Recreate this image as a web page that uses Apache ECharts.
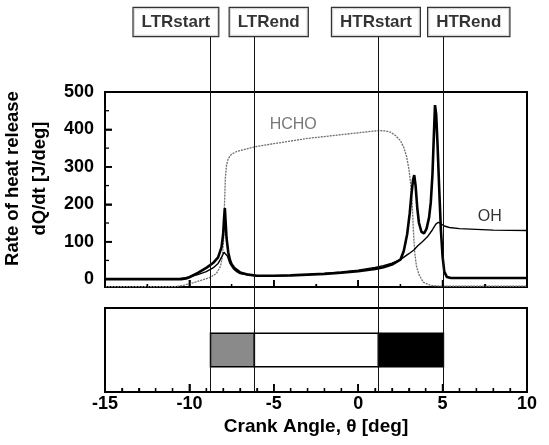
<!DOCTYPE html>
<html>
<head>
<meta charset="utf-8">
<script src="https://cdn.jsdelivr.net/npm/echarts@6/dist/echarts.min.js"></script>
<style>
    html, body {margin: 0; background: #fff;}
    #container {width: 549px; height: 445px;}
</style>
</head>
<body>
<div id="container"></div>
<script>
// heat release rate dQ/dt (thick black)
var rateTheta = [-15, -10.5, -10.2, -10.0, -9.5, -9.0, -8.6, -8.3, -8.1, -8.0, -7.95, -7.9, -7.85, -7.8, -7.7, -7.6, -7.5, -7.3, -7.0, -6.5,
    -6.0, -5.0, -4.0, -3.0, -2.0, -1.0, 0.0, 1.0, 1.5, 2.0, 2.5, 2.7, 2.9, 3.05, 3.15, 3.25, 3.32, 3.4, 3.5, 3.6,
    3.75, 3.9, 4.05, 4.2, 4.3, 4.4, 4.48, 4.55, 4.62, 4.7, 4.8, 4.9, 5.0, 5.1, 5.25, 5.5, 10];
var rate = [0, 0, 2, 5, 17, 30, 43, 58, 85, 120, 160, 190, 150, 110, 72, 52, 40, 28, 18, 12,
    9, 9, 10, 12, 14, 17, 21, 27, 32, 39, 52, 75, 120, 175, 225, 265, 278, 250, 190, 150,
    126, 122, 135, 165, 205, 280, 380, 465, 440, 360, 240, 130, 60, 20, 6, 3, 3];

// OH (thin black)
var ohTheta = [-15, -10.8, -10.3, -10.0, -9.5, -9.0, -8.6, -8.3, -8.1, -7.95, -7.85, -7.75, -7.6, -7.4, -7.2, -7.0, -6.5, -6.0, -5.0, -4.0,
    -3.0, -2.0, -1.0, 0.0, 1.0, 1.5, 2.0, 2.5, 3.0, 3.3, 3.5, 3.8, 4.1, 4.4, 4.6, 4.75, 4.9, 5.1, 5.4, 6.0, 7.0, 8.0, 10];
var oh = [0, 0, 3, 6, 12, 20, 30, 42, 58, 72, 75, 62, 42, 28, 20, 15, 11, 9, 9, 10,
    12, 15, 19, 24, 31, 36, 43, 52, 68, 78, 88, 100, 113, 132, 147, 152, 148, 142, 138, 135, 133, 131, 130];

// HCHO (gray)
var hchoTheta = [-15, -10.8, -10.3, -9.8, -9.3, -8.8, -8.4, -8.15, -8.05, -7.98, -7.92, -7.87, -7.8, -7.7, -7.5, -7.2, -6.6, -6.2, -5, -4,
    -3, -2, -1, 0, 0.8, 1.2, 1.6, 1.9, 2.2, 2.5, 2.7, 2.87, 3.0, 3.1, 3.2, 3.27, 3.35, 3.45, 3.6, 3.85, 4.3, 5, 10];
var hcho = [-20, -20, -16, -10, -3, 4, 15, 35, 60, 100, 200, 270, 305, 322, 334, 341, 348, 353, 362, 369,
    376, 381, 386, 391, 395, 397, 396, 393, 384, 370, 352, 327, 295, 258, 200, 130, 70, 35, 12, -8, -17, -19, -19];

// LTR / HTR markers
var phaseNames = ['LTRstart', 'LTRend', 'HTRstart', 'HTRend'];
var phaseTheta = [-8.75, -6.15, 1.2, 5.05];
var phaseBoxTheta = [-10.8, -5.3, 1.05, 6.55];   // where the label boxes sit

// ticks
var xTickMajor = [-15, -10, -5, 0, 5, 10];
var xTickHalf = [-12.5, -7.5, -2.5, 2.5, 7.5];
var xTickUnit = [-14, -13, -12, -11, -9, -8, -7, -6, -4, -3, -2, -1, 1, 2, 3, 4, 6, 7, 8, 9];
var yMajor = [0, 100, 200, 300, 400, 500];
var yMinor = [50, 150, 250, 350, 450];

// curve labels
var curveNames = ['HCHO', 'OH'];
var curveLabelAt = [[-3.85, 412], [7.8, 167]];

var font = 'Liberation Sans, Arial, sans-serif';
var Y_MIN = -21;

function pairs(xs, ys) {
    var out = [];
    for (var i = 0; i < xs.length; i++) {
        out.push([xs[i], ys[i]]);
    }
    return out;
}

//inward tick marks, placed through the axis scales
function tickSeries(xIdx, yIdx, values, horizontal, base, len) {
    var pts = values.map(function (v) { return horizontal ? [v, base] : [base, v]; });
    return {
        type: 'custom', xAxisIndex: xIdx, yAxisIndex: yIdx, silent: true, z: 10, clip: false,
        encode: {x: 0, y: 1},
        data: pts,
        renderItem: function (params, api) {
            var p = api.coord([api.value(0), api.value(1)]);
            var q = horizontal ? [p[0], p[1] - len] : [p[0] + len, p[1]];
            return {
                type: 'line',
                shape: {x1: p[0], y1: p[1], x2: q[0], y2: q[1]},
                style: {stroke: '#000', lineWidth: len > 5 ? 1.6 : 1.3, fill: null}
            };
        }
    };
}

var dom = document.getElementById('container');
var myChart = echarts.init(dom);

function frameLine() {
    return {show: true, onZero: false, lineStyle: {color: '#000', width: 2}};
}
function gridBox(top, height, show) {
    return {
        left: 105, right: 22, top: top, height: height, show: show,
        borderColor: '#000', borderWidth: 2, backgroundColor: 'transparent',
        containLabel: false, outerBoundsMode: 'none'
    };
}

var option = {
    animation: false,
    grid: [gridBox(92, 195, true), gridBox(308, 84, true), gridBox(37, 355, false), gridBox(7, 30, false)],
    xAxis: [
        {
            gridIndex: 0, type: 'value', min: -15, max: 10, interval: 5,
            axisLine: frameLine(),
            axisLabel: {show: false},
            axisTick: {show: true, inside: true, length: 7, lineStyle: {color: '#000', width: 1.6}},
            minorTick: {show: true, splitNumber: 2, length: 3, lineStyle: {color: '#000', width: 1.3}},
            splitLine: {show: false},
            minorSplitLine: {show: false}
        },
        {
            gridIndex: 1, type: 'value', min: -15, max: 10, interval: 5,
            axisLine: frameLine(),
            axisLabel: {show: true, color: '#000', fontSize: 18, fontWeight: 'bold', margin: 3, fontFamily: font},
            axisTick: {show: true, inside: true, length: 8, lineStyle: {color: '#000', width: 1.6}},
            minorTick: {show: true, splitNumber: 5, length: 4, lineStyle: {color: '#000', width: 1.3}},
            splitLine: {show: false},
            minorSplitLine: {show: false},
            name: 'Crank Angle, θ [deg]',
            nameLocation: 'middle',
            nameGap: 25,
            nameTextStyle: {color: '#000', fontSize: 19, fontWeight: 'bold', fontFamily: font}
        },
        {gridIndex: 2, type: 'value', min: -15, max: 10, show: false},
        {gridIndex: 3, type: 'value', min: -15, max: 10, show: false}
    ],
    yAxis: [
        {
            gridIndex: 0, type: 'value', min: Y_MIN, max: 500,
            axisLine: frameLine(),
            axisLabel: {show: true, customValues: yMajor, color: '#000', fontSize: 18, fontWeight: 'bold', margin: 11, fontFamily: font},
            axisTick: {show: true, customValues: yMajor, inside: true, length: 7, lineStyle: {color: '#000', width: 1.6}},
            splitLine: {show: false},
            name: 'Rate of heat release\ndQ/dt [J/deg]',
            nameLocation: 'middle',
            nameRotate: 90,
            nameGap: 42,
            nameTextStyle: {color: '#000', fontSize: 18.5, fontWeight: 'bold', lineHeight: 27, padding: [0, 0, 0, 22], fontFamily: font}
        },
        {gridIndex: 1, type: 'value', min: 0, max: 1, show: false},
        {gridIndex: 2, type: 'value', min: 0, max: 1, show: false},
        {gridIndex: 3, type: 'value', min: 0, max: 1, show: false}
    ],
    series: [
        //vertical LTR/HTR lines
        {
            type: 'line', xAxisIndex: 2, yAxisIndex: 2,
            data: [[-15, 0]], symbol: 'none', lineStyle: {opacity: 0},
            markLine: {
                silent: true, symbol: ['none', 'none'],
                label: {show: false},
                lineStyle: {color: '#111', width: 1, type: 'solid'},
                data: phaseTheta.map(function (v) { return {xAxis: v}; })
            }
        },
        //label boxes
        {
            type: 'scatter', xAxisIndex: 3, yAxisIndex: 3, symbolSize: 0,
            data: phaseBoxTheta.map(function (v, i) { return {value: [v, 0.5], name: phaseNames[i]}; }),
            label: {
                show: true, position: 'inside', formatter: '{b}',
                color: '#000', fontSize: 17, fontWeight: 'bold', fontFamily: font, lineHeight: 18,
                backgroundColor: '#fff', borderColor: '#000', borderWidth: 1.2, padding: [5, 8]
            }
        },
        {
            name: 'HCHO', type: 'line', xAxisIndex: 0, yAxisIndex: 0,
            data: pairs(hchoTheta, hcho), symbol: 'none',
            lineStyle: {color: '#6e6e6e', width: 1.3, type: [2, 1]}
        },
        {
            name: 'OH', type: 'line', xAxisIndex: 0, yAxisIndex: 0,
            data: pairs(ohTheta, oh), symbol: 'none',
            lineStyle: {color: '#000', width: 1.4}
        },
        {
            name: 'dQ/dt', type: 'line', xAxisIndex: 0, yAxisIndex: 0,
            data: pairs(rateTheta, rate), symbol: 'none',
            lineStyle: {color: '#000', width: 2.6}
        },
        //curve names
        {
            type: 'scatter', xAxisIndex: 0, yAxisIndex: 0, symbolSize: 0,
            data: curveLabelAt.map(function (p, i) {
                return {value: p, name: curveNames[i], label: {color: i === 0 ? '#555' : '#000'}};
            }),
            label: {show: true, position: 'inside', formatter: '{b}', fontSize: 16, fontFamily: font}
        },
        //LTR / HTR phase boxes in the lower panel
        {
            type: 'custom', xAxisIndex: 1, yAxisIndex: 1,
            data: [0, 1, 2],
            renderItem: function (params, api) {
                var i = params.dataIndex;
                var fills = ['#8a8a8a', '#fff', '#000'];
                var p0 = api.coord([phaseTheta[i], 0.7]);
                var p1 = api.coord([phaseTheta[i + 1], 0.3]);
                return {
                    type: 'rect',
                    shape: {x: p0[0], y: p0[1], width: p1[0] - p0[0], height: p1[1] - p0[1]},
                    style: {fill: fills[i], stroke: '#000', lineWidth: 1.5}
                };
            }
        },
        //ticks
        tickSeries(0, 0, xTickMajor, true, Y_MIN, 7),
        tickSeries(0, 0, xTickHalf, true, Y_MIN, 3),
        tickSeries(0, 0, yMajor, false, -15, 7),
        tickSeries(0, 0, yMinor, false, -15, 4),
        tickSeries(1, 1, xTickMajor, true, 0, 8),
        tickSeries(1, 1, xTickUnit, true, 0, 4)
    ]
};

myChart.setOption(option);
</script>
</body>
</html>
